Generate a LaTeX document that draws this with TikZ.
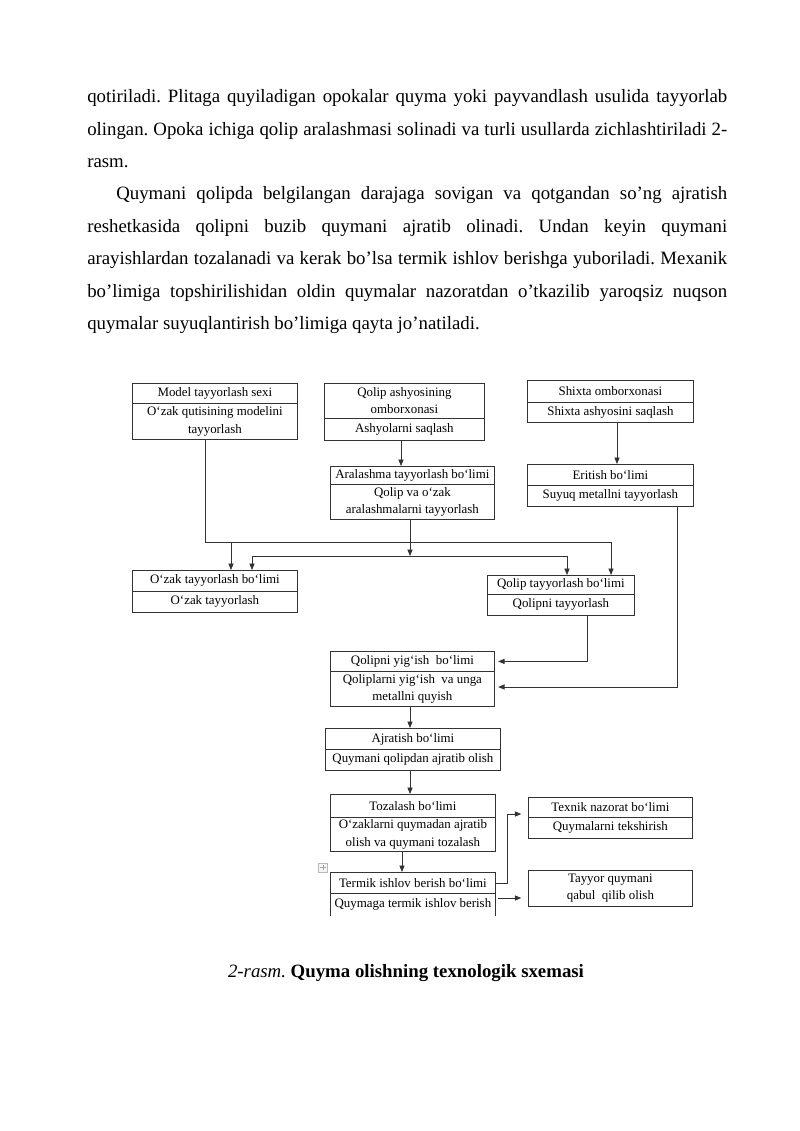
\documentclass[tikz,border=0pt]{standalone}
\usepackage{fontspec}
\setmainfont{Liberation Serif}
\usetikzlibrary{arrows.meta}
\frenchspacing
\newcommand\pxu{0.7441pt}
\newcommand\dfont{\fontsize{9.6}{12.8}\selectfont}
\newcommand\bodyfont{\fontsize{14}{16}\selectfont}
\newcommand\cellnode[6]{\node[cell, minimum width=#4*\pxu, minimum height=#5*\pxu] (#1) at (#2,#3) {#6};}
\definecolor{lc}{gray}{0.2}
\tikzset{
  cell/.style={draw=lc, line width=0.6pt, inner sep=0pt, anchor=north west, align=center, font=\dfont},
  ln/.style={draw=lc, line width=0.6pt},
  arr/.style={ln, -{Triangle[length=4.8pt,width=3.8pt]}},
  bodyline/.style={anchor=base west, inner sep=0pt, font=\bodyfont},
}
\begin{document}
\begin{tikzpicture}[x=0.7441pt, y=-0.7441pt]
\fill[white] (0,0) rectangle (800,1131);
\useasboundingbox (0,0) rectangle (800,1131);

% ---------- paragraph text ----------
\node[bodyline] (p1) at (87,102.7) {\makebox[476.2pt][s]{qotiriladi. Plitaga quyiladigan opokalar quyma yoki payvandlash usulida tayyorlab}};
\node[bodyline] (p2) at (87,135.1) {\makebox[476.2pt][s]{olingan. Opoka ichiga qolip aralashmasi solinadi va turli usullarda zichlashtiriladi 2-}};
\node[bodyline] (p3) at (87,167.5) {rasm.};
\node[bodyline] (p4) at (116,199.9) {\makebox[454.6pt][s]{Quymani qolipda belgilangan darajaga sovigan va qotgandan so’ng ajratish}};
\node[bodyline] (p5) at (87,232.3) {\makebox[476.2pt][s]{reshetkasida qolipni buzib quymani ajratib olinadi. Undan keyin quymani}};
\node[bodyline] (p6) at (87,264.7) {\makebox[476.2pt][s]{arayishlardan tozalanadi va kerak bo’lsa termik ishlov berishga yuboriladi. Mexanik}};
\node[bodyline] (p7) at (87,297.1) {\makebox[476.2pt][s]{bo’limiga topshirilishidan oldin quymalar nazoratdan o’tkazilib yaroqsiz nuqson}};
\node[bodyline] (p8) at (87,329.5) {quymalar suyuqlantirish bo’limiga qayta jo’natiladi.};

% ---------- boxes ----------
\cellnode{m1}{132}{383}{165}{20}{Model tayyorlash sexi}
\cellnode{m2}{132}{403}{165}{36}{O‘zak qutisining modelini\\tayyorlash}
\cellnode{q1}{324}{383}{160}{35}{Qolip ashyosining\\omborxonasi}
\cellnode{q2}{324}{418}{160}{22}{Ashyolarni saqlash}
\cellnode{s1}{527}{380}{166}{22}{Shixta omborxonasi}
\cellnode{s2}{527}{402}{166}{20}{Shixta ashyosini saqlash}
\cellnode{a1}{330}{466}{164}{18}{Aralashma tayyorlash bo‘limi}
\cellnode{a2}{330}{484}{164}{35}{Qolip va o‘zak\\aralashmalarni tayyorlash}
\cellnode{e1}{527}{464}{166}{21}{Eritish bo‘limi}
\cellnode{e2}{527}{485}{166}{21}{Suyuq metallni tayyorlash}
\cellnode{z1}{132}{570}{165}{21}{O‘zak tayyorlash bo‘limi}
\cellnode{z2}{132}{591}{165}{21}{O‘zak tayyorlash}
\cellnode{qt1}{487}{575}{147}{19}{Qolip tayyorlash bo‘limi}
\cellnode{qt2}{487}{594}{147}{21}{Qolipni tayyorlash}
\cellnode{y1}{330}{651}{164}{20}{Qolipni yig‘ish\ \ bo‘limi}
\cellnode{y2}{330}{671}{164}{35}{Qoliplarni yig‘ish\ \ va unga\\metallni quyish}
\cellnode{j1}{325}{728}{175}{21}{Ajratish bo‘limi}
\cellnode{j2}{325}{749}{175}{21}{Quymani qolipdan ajratib olish}
\cellnode{t1}{330}{794}{165}{23}{Tozalash bo‘limi}
\cellnode{t2}{330}{817}{165}{34}{O‘zaklarni quymadan ajratib\\olish va quymani tozalash}
\cellnode{k1}{330}{872}{165}{21}{Termik ishlov berish bo‘limi}
\node[cell, draw=none, minimum width=165*\pxu, minimum height=22*\pxu] (k2) at (330,893) {Quymaga termik ishlov berish};
\draw[ln] (k2.south west) -- (k2.north west) (k2.north east) -- (k2.south east);
\cellnode{x1}{528}{797}{164}{20}{Texnik nazorat bo‘limi}
\cellnode{x2}{528}{817}{164}{21}{Quymalarni tekshirish}
\cellnode{r}{528}{870}{164}{36}{Tayyor quymani\\qabul\ \ qilib olish}

% table move handle
\node[draw=gray!55, fill=gray!8, line width=0.4pt, minimum size=9*\pxu, inner sep=0pt] (mv) at (323,867.5) {};
\draw[gray!70, line width=0.5pt] ([xshift=-2.2pt]mv.center) -- ([xshift=2.2pt]mv.center)
  ([yshift=-2.2pt]mv.center) -- ([yshift=2.2pt]mv.center);

% ---------- helper coordinates ----------
\coordinate (xA) at (205,0);
\coordinate (xB) at (231,0);
\coordinate (xC) at (252,0);
\coordinate (xD) at (410,0);
\coordinate (xE) at (567,0);
\coordinate (xF) at (611,0);
\coordinate (xG) at (401,0);
\coordinate (xH) at (617,0);
\coordinate (xI) at (677,0);
\coordinate (xJ) at (587,0);
\coordinate (xK) at (402,0);
\coordinate (xL) at (507,0);
\coordinate (yA) at (0,542);
\coordinate (yB) at (0,556);
\coordinate (yG) at (0,687);
\coordinate (yL) at (0,814);
\coordinate (yM) at (0,898);

% ---------- connectors ----------
\draw[arr] (q2.south -| xG) -- (a1.north -| xG);
\draw[arr] (s2.south -| xH) -- (e1.north -| xH);
\draw[arr] (m2.south -| xA) |- (xF |- yA) -- (qt1.north -| xF);
\draw[arr] (xB |- yA) -- (z1.north -| xB);
\draw[arr] (a2.south -| xD) -- (xD |- yB);
\draw[ln, {Triangle[length=4.8pt,width=3.8pt]}-{Triangle[length=4.8pt,width=3.8pt]}]
  (z1.north -| xC) |- (xE |- yB) -- (qt1.north -| xE);
\draw[arr, shorten >=2.5pt] (qt2.south -| xJ) |- (y1.east);
\draw[arr, shorten >=2.5pt] (e2.south -| xI) |- (y2.east |- yG);
\draw[arr] (y2.south -| xD) -- (j1.north -| xD);
\draw[arr] (j2.south -| xD) -- (t1.north -| xD);
\draw[arr] (t2.south -| xK) -- (k1.north -| xK);
\draw[arr, shorten >=5pt] (k1.east) -| (xL |- yL) -- (x1.west |- yL);
\draw[arr, shorten >=5pt] ([xshift=1.5pt]k2.east |- yM) -- (r.west |- yM);

% ---------- caption ----------
\node[anchor=base, inner sep=0pt, font=\bodyfont] (cap) at (406,977) {\textit{2-rasm.} \textbf{Quyma olishning texnologik sxemasi}};
\end{tikzpicture}
\end{document}
